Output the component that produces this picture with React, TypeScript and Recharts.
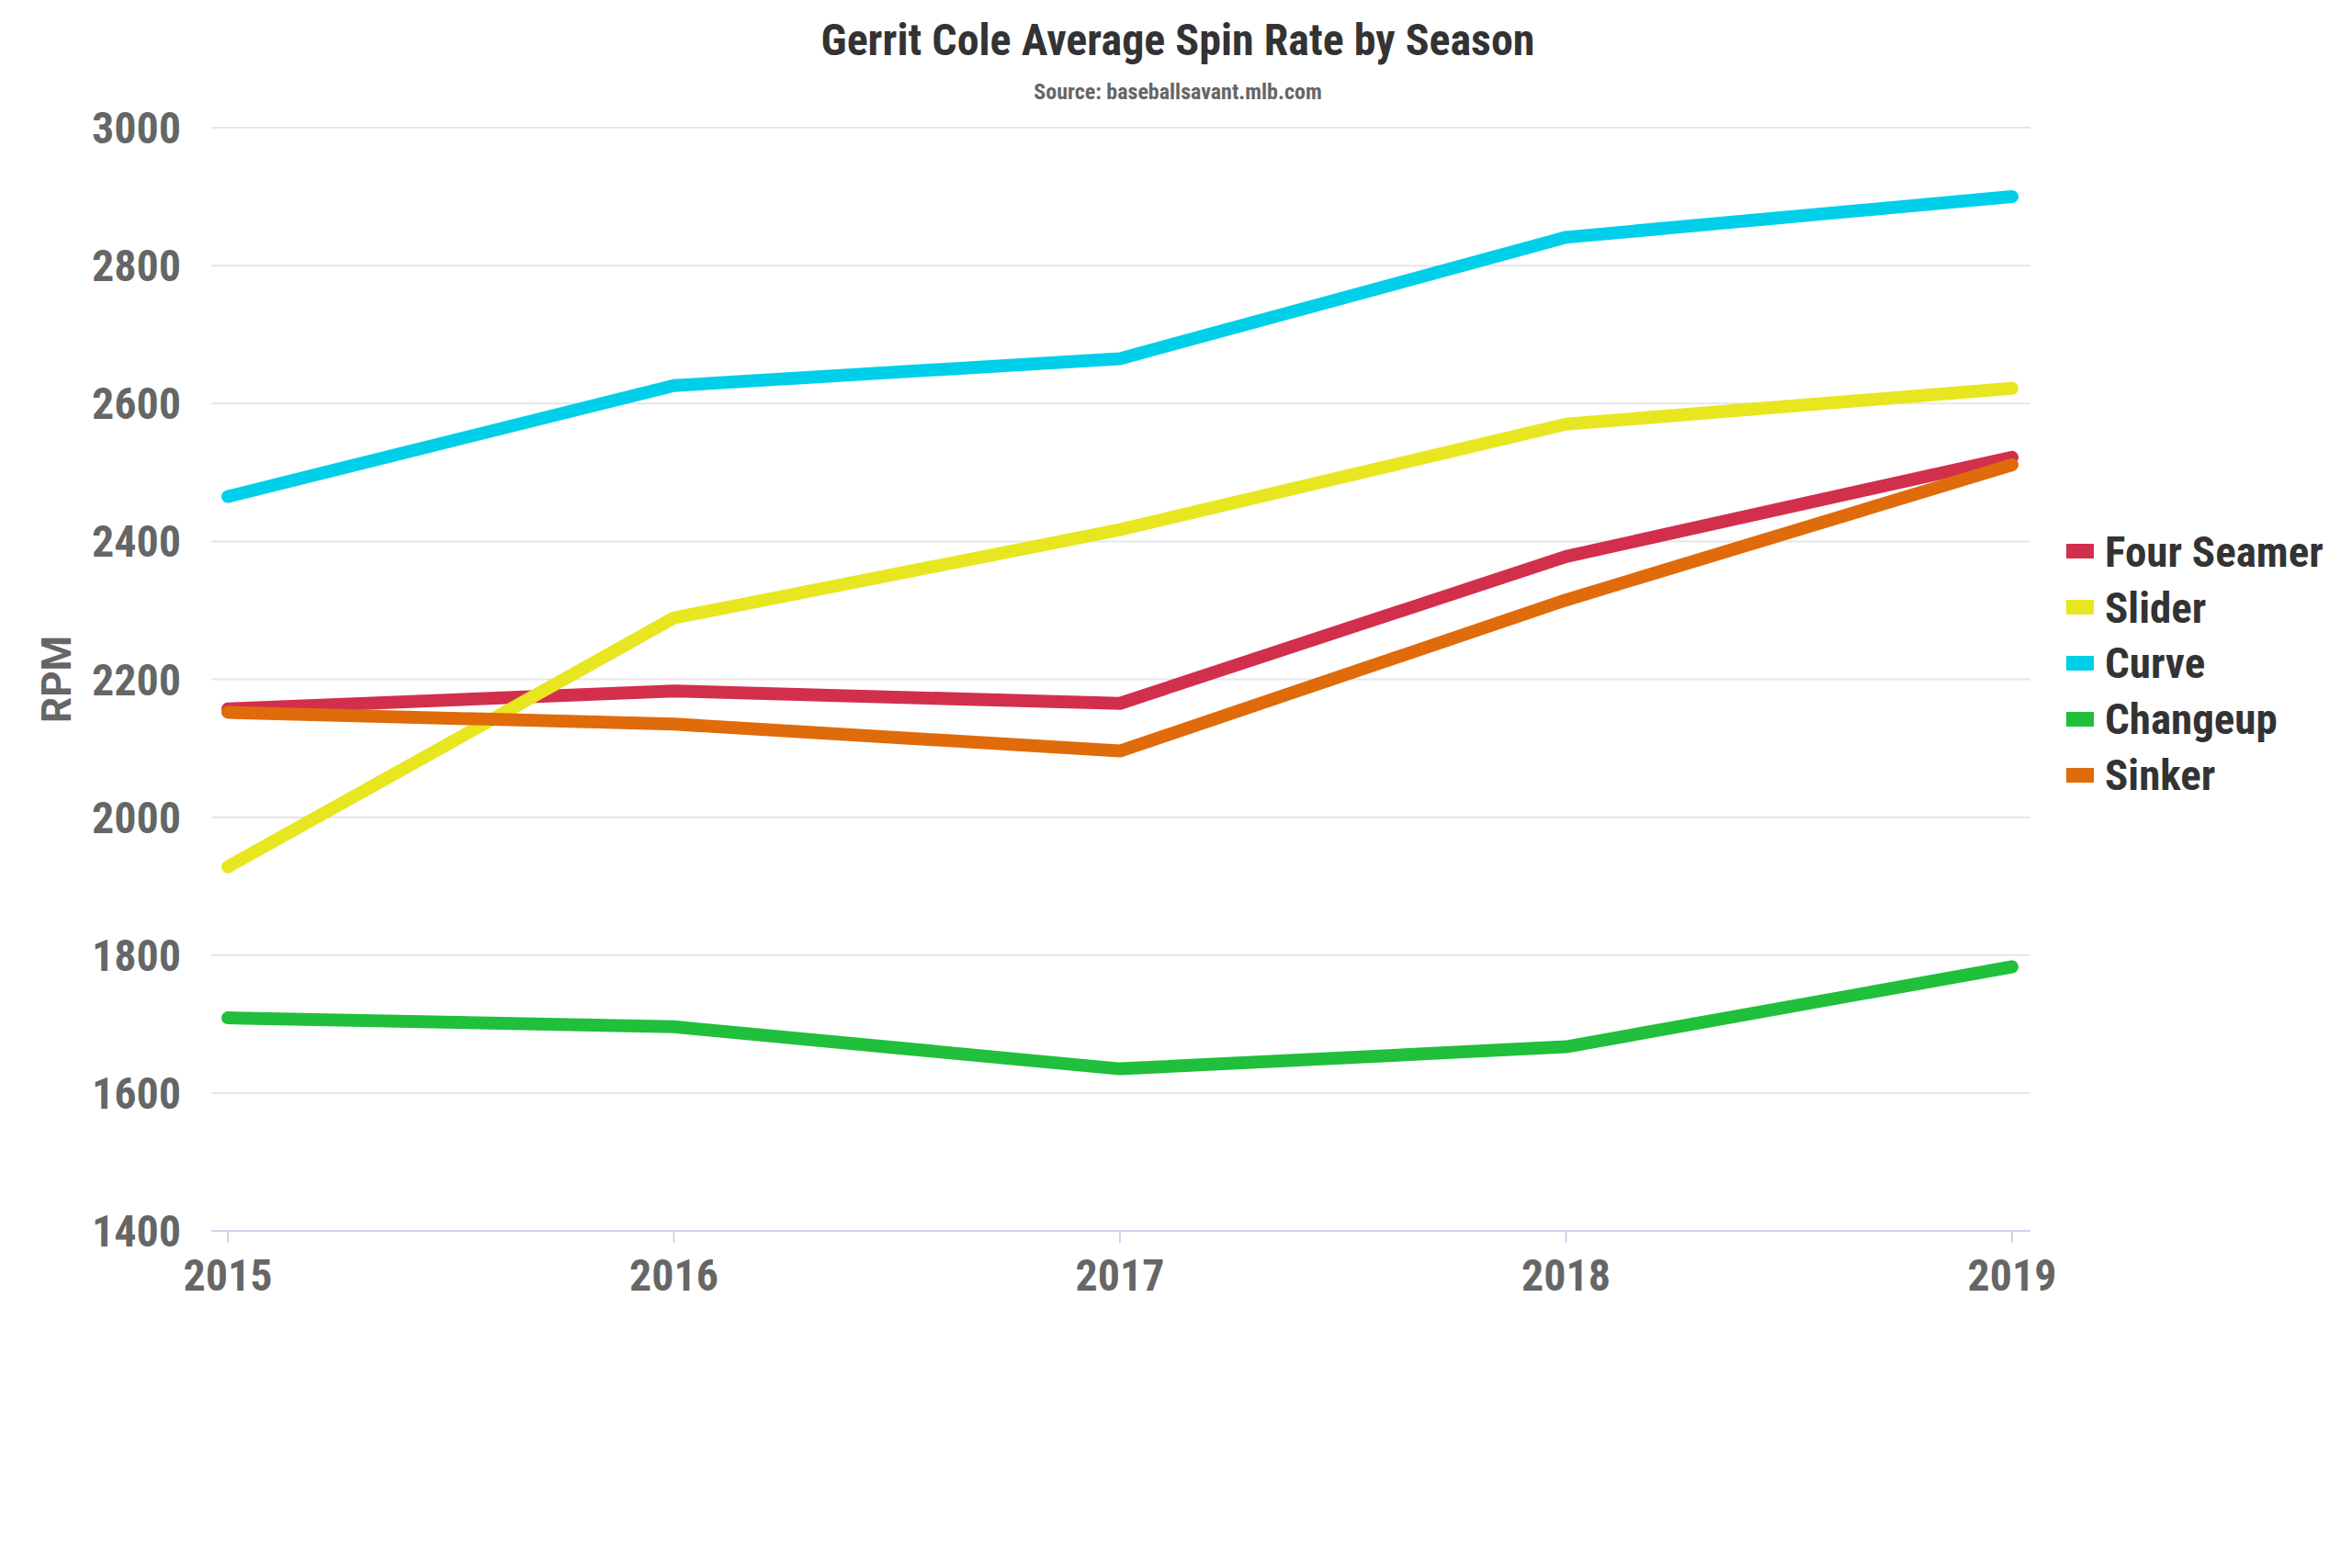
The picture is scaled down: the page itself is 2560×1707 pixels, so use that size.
import React from 'react';
import { LineChart, Line, XAxis, YAxis, CartesianGrid, Legend } from 'recharts';

const years = ['2015', '2016', '2017', '2018', '2019'];
const fourSeamer = [2157, 2183, 2165, 2378, 2522];
const slider = [1928, 2289, 2417, 2570, 2622];
const curve = [2465, 2626, 2665, 2841, 2900];
const changeup = [1709, 1696, 1635, 1667, 1783];
const sinker = [2152, 2135, 2096, 2315, 2511];
const yTicks = [1400, 1600, 1800, 2000, 2200, 2400, 2600, 2800, 3000];

const series = [
  { key: 'Four Seamer', values: fourSeamer, color: '#d22f4d' },
  { key: 'Slider', values: slider, color: '#e8e620' },
  { key: 'Curve', values: curve, color: '#00cfe9' },
  { key: 'Changeup', values: changeup, color: '#20bf3c' },
  { key: 'Sinker', values: sinker, color: '#e06b0b' },
];

const data = years.map((y, i) => {
  const row: Record<string, number | string> = { year: y };
  series.forEach((s) => {
    row[s.key] = s.values[i];
  });
  return row;
});

const FONT = '"Roboto Condensed", "Liberation Sans Narrow", "DejaVu Sans Condensed", Roboto, sans-serif';

const LegendContent = () => (
  <div style={{ fontFamily: FONT, fontWeight: 700, fontSize: 47, color: '#333333', fontStretch: 'condensed' }}>
    {series.map((s) => (
      <div key={s.key} style={{ display: 'flex', alignItems: 'center', height: 60.8 }}>
        <span style={{ display: 'inline-block', width: 30, height: 16, background: s.color, marginRight: 12 }} />
        <span>{s.key}</span>
      </div>
    ))}
  </div>
);

const RpmLabel = (props: any) => {
  const vb = props.viewBox || {};
  const cx = vb.x - 38;
  const cy = vb.y + vb.height / 2;
  return (
    <text
      x={cx}
      y={cy}
      transform={`rotate(-90, ${cx}, ${cy})`}
      textAnchor="middle"
      dominantBaseline="central"
      fill="#666666"
      style={{ fontFamily: 'Roboto, "Liberation Sans", sans-serif', fontWeight: 700, fontSize: 44 }}
    >
      RPM
    </text>
  );
};

export default function App() {
  return (
    <div style={{ position: 'absolute', left: 0, top: 0, width: 2560, height: 1707, background: '#ffffff' }}>
      <div
        style={{
          position: 'absolute',
          left: 0,
          top: 16,
          width: 2564,
          textAlign: 'center',
          fontFamily: FONT,
          fontStretch: 'condensed',
          fontWeight: 700,
          fontSize: 48,
          color: '#333333',
          lineHeight: '56px',
        }}
      >
        Gerrit Cole Average Spin Rate by Season
      </div>
      <div
        style={{
          position: 'absolute',
          left: 0,
          top: 86,
          width: 2564,
          textAlign: 'center',
          fontFamily: FONT,
          fontStretch: 'condensed',
          fontWeight: 700,
          fontSize: 24,
          color: '#666666',
          lineHeight: '28px',
        }}
      >
        Source: baseballsavant.mlb.com
      </div>
      <div style={{ position: 'absolute', left: 0, top: 0 }}>
        <LineChart width={2560} height={1707} data={data} margin={{ top: 139, right: 350, bottom: 267, left: 100 }}>
          <CartesianGrid vertical={false} stroke="#e6e6e6" strokeWidth={2} />
          <XAxis
            dataKey="year"
            padding={{ left: 18, right: 20 }}
            stroke="#ccd6eb"
            strokeWidth={2}
            tickSize={13}
            tickMargin={18}
            tick={{ fill: '#666666', fontFamily: FONT, fontWeight: 700, fontSize: 48, fontStretch: 'condensed' }}
            height={100}
          />
          <YAxis
            width={130}
            domain={[1400, 3000]}
            ticks={yTicks}
            axisLine={false}
            tickLine={false}
            tickMargin={27}
            tick={{ fill: '#666666', fontFamily: FONT, fontWeight: 700, fontSize: 48, fontStretch: 'condensed' }}
            label={{ content: RpmLabel }}
          />
          <Legend
            layout="vertical"
            align="center"
            verticalAlign="middle"
            content={LegendContent}
            wrapperStyle={{ left: 2249, top: 570, width: 311 }}
          />
          {series.map((s) => (
            <Line
              key={s.key}
              type="linear"
              dataKey={s.key}
              stroke={s.color}
              strokeWidth={14}
              strokeLinecap="round"
              strokeLinejoin="round"
              dot={false}
              activeDot={false}
              isAnimationActive={false}
            />
          ))}
        </LineChart>
      </div>
    </div>
  );
}
